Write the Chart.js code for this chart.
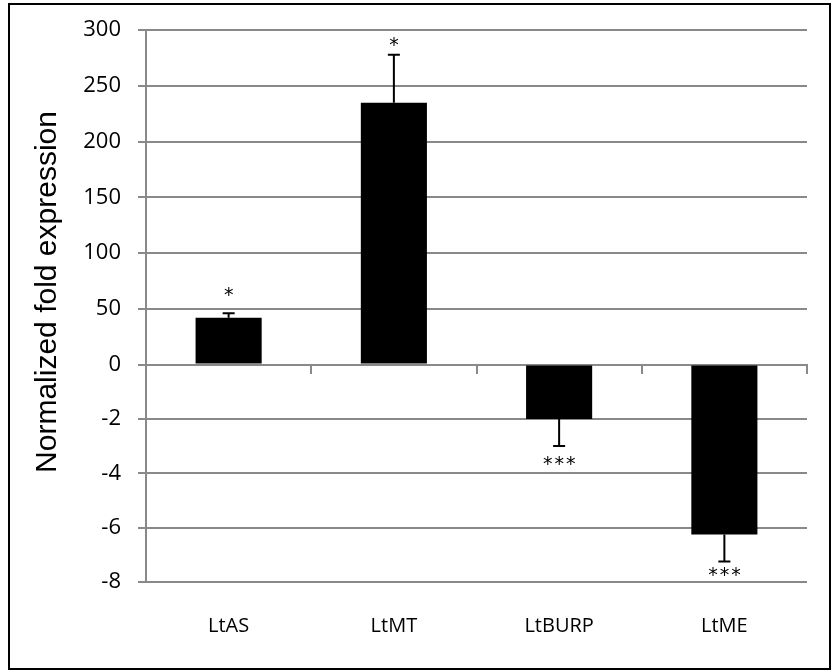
<!DOCTYPE html>
<html>
<head>
<meta charset="utf-8">
<script src="https://cdn.jsdelivr.net/npm/chart.js@4/dist/chart.umd.min.js"></script>
<style>
  html, body { margin: 0; padding: 0; background: #fff; }
  #wrap { position: relative; width: 832px; height: 671px; }
</style>
</head>
<body>
<div id="wrap"><canvas id="chart" width="832" height="671"></canvas></div>
<script>
// data
const categories = ['LtAS', 'LtMT', 'LtBURP', 'LtME'];
const foldValues = [42, 235, -2.0, -6.25];
const errorValues = [4, 43, 1.0, 1.0];
const significance = ['*', '*', '***', '***'];
const markerValues = [65, 289, -3.55, -7.65];
const negativeTicks = [-8, -6, -4, -2];
const positiveTicks = [0, 50, 100, 150, 200, 250, 300];

// split axis: positive part is compressed so 50 units take about the same room as 2 below zero
const posScale = 0.041;
const toAxis = v => (v >= 0 ? v * posScale : v);
const axisTicks = negativeTicks.concat(positiveTicks);

const gridGrey = '#898989';
const labelFont = '"Open Sans", "Noto Sans", sans-serif';

const frame = {
  id: 'frame',
  beforeDraw(chart) {
    const ctx = chart.ctx;
    ctx.save();
    ctx.fillStyle = '#fff';
    ctx.fillRect(0, 0, chart.width, chart.height);
    ctx.strokeStyle = '#000';
    ctx.lineWidth = 2;
    ctx.strokeRect(9, 4, 821, 665);
    ctx.restore();
  },
  afterDraw(chart) {
    const ctx = chart.ctx;
    ctx.save();
    ctx.translate(48, 292);
    ctx.rotate(-Math.PI / 2);
    ctx.fillStyle = '#000';
    ctx.font = '30px "Liberation Sans", Arial, sans-serif';
    ctx.textAlign = 'center';
    ctx.textBaseline = 'middle';
    ctx.fillText('Normalized fold expression', 0, 0);
    ctx.restore();
  }
};

const errorBars = {
  id: 'errorBars',
  afterDatasetsDraw(chart) {
    const ctx = chart.ctx;
    const y = chart.scales.y;
    const bars = chart.getDatasetMeta(0).data;
    ctx.save();
    ctx.strokeStyle = '#000';
    ctx.fillStyle = '#000';
    ctx.lineWidth = 2;
    bars.forEach((bar, i) => {
      const v = foldValues[i];
      const end = v >= 0 ? v + errorValues[i] : v - errorValues[i];
      const yEnd = y.getPixelForValue(toAxis(end));
      ctx.beginPath();
      ctx.moveTo(bar.x, bar.y);
      ctx.lineTo(bar.x, yEnd);
      ctx.moveTo(bar.x - 6, yEnd);
      ctx.lineTo(bar.x + 6, yEnd);
      ctx.stroke();

      ctx.font = '19px "DejaVu Sans", sans-serif';
      ctx.letterSpacing = '2px';
      ctx.textAlign = 'center';
      ctx.textBaseline = 'middle';
      ctx.fillText(significance[i], bar.x + 1, y.getPixelForValue(toAxis(markerValues[i])) + 4);
    });
    ctx.restore();
  }
};

new Chart(document.getElementById('chart'), {
  type: 'bar',
  data: {
    labels: categories,
    datasets: [{
      data: foldValues.map(toAxis),
      backgroundColor: '#000',
      borderWidth: 0,
      barPercentage: 0.4,
      categoryPercentage: 1.0
    }]
  },
  options: {
    responsive: false,
    animation: false,
    layout: { padding: { top: 29, right: 25, left: 0, bottom: 0 } },
    plugins: {
      legend: { display: false },
      tooltip: { enabled: false }
    },
    scales: {
      x: {
        type: 'category',
        position: 'bottom',
        grid: { display: false, drawTicks: false },
        border: { display: false },
        ticks: { padding: 32, color: '#000', font: { family: labelFont, size: 20 } },
        afterFit: s => { s.height = 89; }
      },
      zeroAxis: {
        axis: 'x',
        type: 'category',
        labels: categories,
        offset: true,
        position: { y: 0 },
        grid: { offset: true, drawOnChartArea: false, drawTicks: true, tickLength: 8, color: gridGrey, lineWidth: 2 },
        border: { display: true, color: gridGrey, width: 2 },
        ticks: { display: false }
      },
      y: {
        min: -8,
        max: toAxis(300),
        afterBuildTicks: s => { s.ticks = axisTicks.map(v => ({ value: toAxis(v) })); },
        grid: { color: gridGrey, lineWidth: 2, tickLength: 8 },
        border: { display: true, color: gridGrey, width: 2 },
        ticks: {
          padding: 17,
          color: '#000',
          font: { family: labelFont, size: 22 },
          callback: (value, i) => String(axisTicks[i])
        },
        afterFit: s => { s.width = 146; }
      }
    }
  },
  plugins: [frame, errorBars]
});
</script>
</body>
</html>
